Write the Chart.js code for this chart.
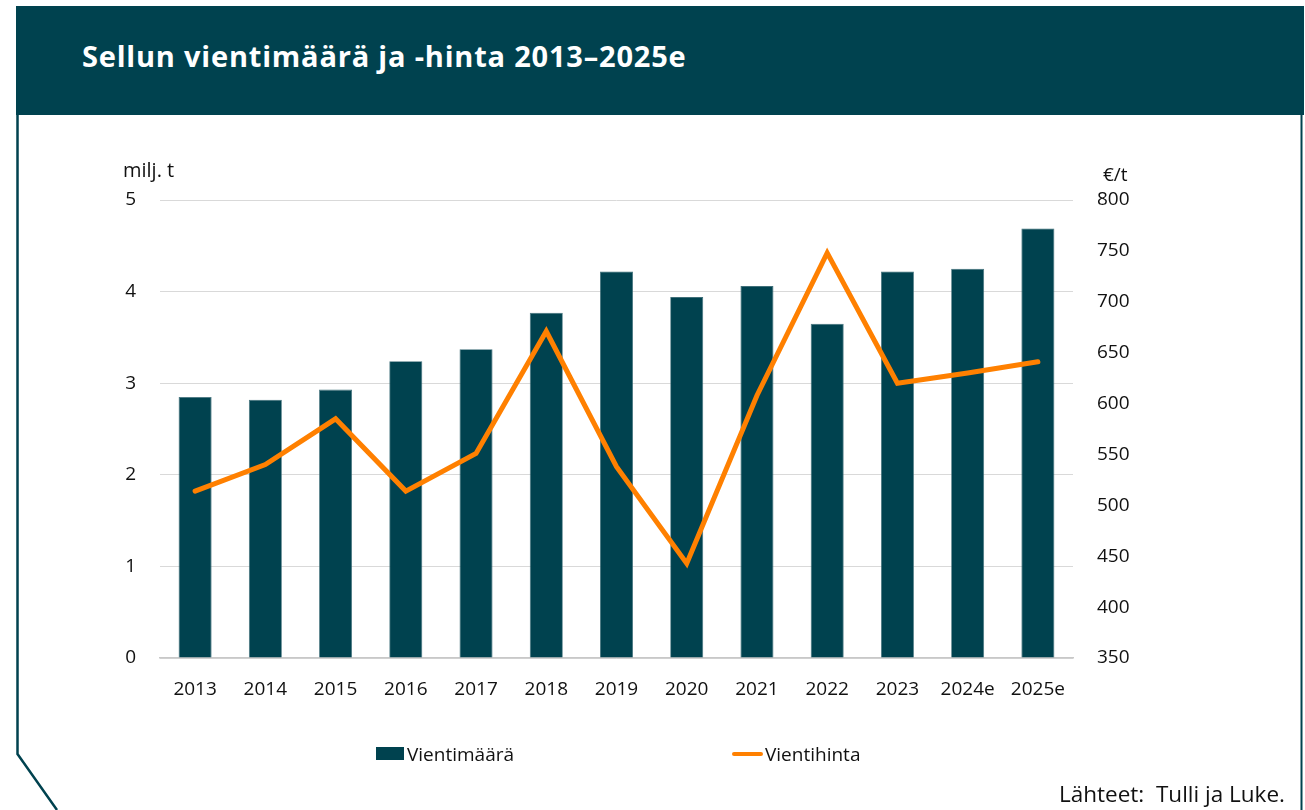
<!DOCTYPE html>
<html>
<head>
<meta charset="utf-8">
<script src="https://cdn.jsdelivr.net/npm/chart.js@4.4.1/dist/chart.umd.min.js"></script>
<style>
  html, body { margin: 0; padding: 0; background: #fff; }
  body { width: 1305px; height: 810px; position: relative; overflow: hidden; font-family: "Open Sans", "Noto Sans", sans-serif; }
  #header { position: absolute; left: 16px; top: 6px; width: 1288px; height: 109px; background: #00424F; }
  #title { position: absolute; left: 82px; top: 36px; color: #fff; font-weight: bold; font-size: 29px; white-space: nowrap; letter-spacing: 0.8px; }
  #frame { position: absolute; left: 0; top: 0; }
  #chartWrap { position: absolute; left: 0; top: 0; width: 1305px; height: 810px; }
  .txt { position: absolute; color: #111; font-size: 19px; white-space: nowrap; }
  .legSq { position: absolute; background: #00424F; }
  .legLn { position: absolute; background: #FF8000; border-radius: 2px; }
</style>
</head>
<body>
<div id="chartWrap"><canvas id="c" width="1305" height="810"></canvas></div>
<div id="header"></div>
<div id="title">Sellun vientimäärä ja -hinta 2013–2025e</div>
<svg id="frame" width="1305" height="810">
  <polyline points="17.5,115 17.5,754 57,810" fill="none" stroke="#00424F" stroke-width="2.5"/>
  <line x1="1301.5" y1="115" x2="1301.5" y2="810" stroke="#00424F" stroke-width="2"/>
</svg>
<div class="txt" style="left:123px; top:156px; font-size:20px;">milj. t</div>
<div class="txt" style="left:1103px; top:161px;">€/t</div>
<div class="legSq" style="left:376px; top:747px; width:28px; height:13px;"></div>
<div class="txt" style="left:407px; top:741px;">Vientimäärä</div>
<div class="legLn" style="left:732px; top:752px; width:31px; height:4px;"></div>
<div class="txt" style="left:765px; top:741px;">Vientihinta</div>
<div class="txt" style="left:1059px; top:778px; font-size:22.5px;">Lähteet:&nbsp; Tulli ja Luke.</div>
<script>
const categories = ["2013","2014","2015","2016","2017","2018","2019","2020","2021","2022","2023","2024e","2025e"];
const volume = [2.85, 2.82, 2.93, 3.24, 3.37, 3.77, 4.22, 3.94, 4.06, 3.65, 4.22, 4.25, 4.69];
const price = [514, 540, 585, 514, 551, 671, 538, 443, 608, 748, 620, 630, 641];
const leftTicks = [0, 1, 2, 3, 4, 5];
const rightTicks = [350, 400, 450, 500, 550, 600, 650, 700, 750, 800];

const tickFont = { family: "'Open Sans', 'Noto Sans', sans-serif", size: 19 };

new Chart(document.getElementById('c'), {
  data: {
    labels: categories,
    datasets: [
      { type: 'line', label: 'Vientihinta', data: price, yAxisID: 'y1', borderColor: '#FF8000', borderWidth: 5, pointRadius: 0, tension: 0, order: 0, borderCapStyle: 'round', borderJoinStyle: 'miter' },
      { type: 'bar', label: 'Vientimäärä', data: volume, yAxisID: 'y', backgroundColor: '#00424F', borderColor: '#3f6f79', borderWidth: 0.8, barPercentage: 0.47, categoryPercentage: 1.0, order: 1 }
    ]
  },
  options: {
    responsive: false,
    animation: false,
    devicePixelRatio: 1,
    layout: { padding: { top: 200, left: 0, right: 0, bottom: 0 } },
    plugins: { legend: { display: false }, tooltip: { enabled: false } },
    scales: {
      x: {
        grid: { display: false, drawTicks: false },
        border: { display: true, color: '#c8c8c8', width: 1.5 },
        ticks: { color: '#111', font: tickFont, padding: 20, maxRotation: 0 },
        afterFit(s) { s.height = 152; }
      },
      y: {
        position: 'left', min: 0, max: 5,
        afterBuildTicks(s) { s.ticks = leftTicks.map(v => ({ value: v })); },
        grid: { color: '#d9d9d9', lineWidth: 1, drawTicks: false },
        border: { display: false },
        ticks: { color: '#111', font: tickFont, padding: 24 },
        afterFit(s) { s.width = 160; }
      },
      y1: {
        position: 'right', min: 350, max: 800,
        afterBuildTicks(s) { s.ticks = rightTicks.map(v => ({ value: v })); },
        grid: { display: false, drawTicks: false },
        border: { display: false },
        ticks: { color: '#111', font: tickFont, padding: 24 },
        afterFit(s) { s.width = 232; }
      }
    }
  }
});
</script>
</body>
</html>
